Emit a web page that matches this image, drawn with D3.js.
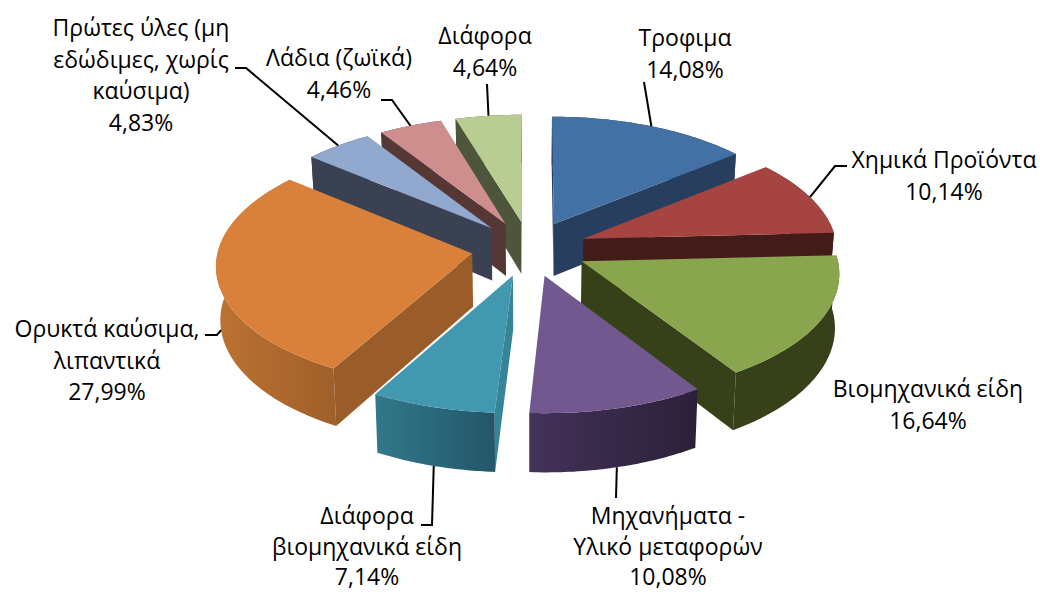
<!DOCTYPE html>
<html>
<head>
<meta charset="utf-8">
<script src="https://cdn.jsdelivr.net/npm/d3@7"></script>
<style>
  html, body { margin: 0; padding: 0; background: #fff; overflow: hidden; }
  text { font-family: "Open Sans", "Noto Sans", sans-serif; font-size: 23px; fill: #000; text-anchor: middle; }
</style>
</head>
<body>
<div id="chart"></div>
<script>
// Chart data
var categories = ["Τροφιμα", "Χημικά Προϊόντα", "Βιομηχανικά είδη", "Μηχανήματα - Υλικό μεταφορών",
  "Διάφορα βιομηχανικά είδη", "Ορυκτά καύσιμα, λιπαντικά", "Πρώτες ύλες (μη εδώδιμες, χωρίς καύσιμα)",
  "Λάδια (ζωϊκά)", "Διάφορα"];
var values = [14.08, 10.14, 16.64, 10.08, 7.14, 27.99, 4.83, 4.46, 4.64];
var valueLabels = ["14,08%", "10,14%", "16,64%", "10,08%", "7,14%", "27,99%", "4,83%", "4,46%", "4,64%"];
var labelLines = [
  ["Τροφιμα"], ["Χημικά Προϊόντα"], ["Βιομηχανικά είδη"], ["Μηχανήματα -", "Υλικό μεταφορών"],
  ["Διάφορα", "βιομηχανικά είδη"], ["Ορυκτά καύσιμα,", "λιπαντικά"],
  ["Πρώτες ύλες (μη", "εδώδιμες, χωρίς", "καύσιμα)"], ["Λάδια (ζωϊκά)"], ["Διάφορα"]
];

// Colours
var topColors = ["#4471a5", "#a54441", "#89a54e", "#71588f", "#4198af", "#d9813b", "#92a9cf", "#cd8e8d", "#b9cd93"];
var wallColors = ["#273e5f", "#431b18", "#374119", "#2c2138", "#358498", "#9a5c28", "#3a4152", "#553736", "#4d563a"];
var rimLeft = ["#273e5f", "#431b18", "#374119", "#43325a", "#31798b", "#bc7232", "#3a4152", "#553736", "#4d563a"];
var rimRight = ["#273e5f", "#431b18", "#374119", "#2b2038", "#24566a", "#a0602a", "#3a4152", "#553736", "#4d563a"];

// Label layout
var labelX = [685, 944, 928, 668, 367, 107, 141, 339, 485];
var labelY = [46, 168, 397, 524, 524, 337, 36, 66, 44];
var labelPitch = [31.5, 31.5, 31.5, 30.5, 30.5, 31.5, 31.5, 31.5, 31.5];
var leaderStart = [[644, 82], [847, 166], null, [616, 498], [421, 525], [205, 335], [235, 68], [381, 100], [487, 84]];
var leaderElbow = [null, [835, 166], null, null, [432, 525], [217, 335], [246, 68], [392, 100], null];
var leaderDepth = [0, 0, 0, 1, 1, 1, 0, 0, 0];

// Back to front
var drawOrder = [8, 7, 6, 0, 1, 5, 2, 4, 3];

var svgWidth = 1040;
var svgHeight = 592;
var cx = 529.5;
var cy = 248.5;
var radius = 254;
var explode = 58;
var tilt = 0.475;
var perspective = 0.00034;
var depth = 53;

var svg = d3.select("#chart")
  .append("svg")
  .attr("width", svgWidth)
  .attr("height", svgHeight);
var defs = svg.append("defs");

var pie = d3.pie().sort(null).value(d => d);
var arcs = pie(values);

var planeScale = d3.scaleLinear().domain([0, 1]).range([0, radius]);
var line = d3.line().x(d => d[0]).y(d => d[1]);

// Plane coordinates to screen, z = 0 is the top face and z = 1 the bottom
function project(X, Y, z) {
  var k = 1 / (1 + perspective * Y);
  return [cx + X * k * (1 - 0.014 * z), cy - tilt * Y * k + depth * k * z];
}

function apexOf(d) {
  var mid = (d.startAngle + d.endAngle) / 2;
  return [explode * Math.sin(mid), explode * Math.cos(mid)];
}

function rimPoint(d, angle, z) {
  var a = apexOf(d);
  return project(a[0] + planeScale(Math.sin(angle)), a[1] + planeScale(Math.cos(angle)), z);
}

function side(a, b, p) {
  return (b[0] - a[0]) * (p[1] - a[1]) - (b[1] - a[1]) * (p[0] - a[0]);
}

drawOrder.forEach(function(i) {
  var d = arcs[i];
  var a = apexOf(d);
  var apexTop = project(a[0], a[1], 0);
  var apexBottom = project(a[0], a[1], 1);
  var angles = d3.range(0, 41).map(t => d.startAngle + (d.endAngle - d.startAngle) * t / 40);
  var rimTop = angles.map(t => rimPoint(d, t, 0));
  var rimBottom = angles.map(t => rimPoint(d, t, 1));
  var g = svg.append("g").attr("class", "slice");

  // Flat cut walls, only the ones facing the viewer
  [[0, 40], [40, 0]].forEach(function(ends) {
    var near = rimTop[ends[0]];
    var far = rimTop[ends[1]];
    if (side(apexTop, near, apexBottom) * side(apexTop, near, far) < 0) {
      g.append("path")
        .attr("d", line([apexTop, near, rimBottom[ends[0]], apexBottom]) + "Z")
        .attr("fill", wallColors[i]);
    }
  });

  // Outer wall
  var gradId = "rim" + i;
  var xs = d3.extent(rimTop, p => p[0]);
  var grad = defs.append("linearGradient")
    .attr("id", gradId)
    .attr("gradientUnits", "userSpaceOnUse")
    .attr("x1", xs[0]).attr("x2", xs[1]).attr("y1", 0).attr("y2", 0);
  grad.append("stop").attr("offset", 0).attr("stop-color", rimLeft[i]);
  grad.append("stop").attr("offset", 1).attr("stop-color", rimRight[i]);
  g.append("path")
    .attr("d", line(rimTop.concat(rimBottom.slice().reverse())) + "Z")
    .attr("fill", "url(#" + gradId + ")");

  // Top face
  g.append("path")
    .attr("d", line([apexTop].concat(rimTop)) + "Z")
    .attr("fill", topColors[i]);
});

// Leader lines
arcs.forEach(function(d, i) {
  if (!leaderStart[i]) return;
  var mid = (d.startAngle + d.endAngle) / 2;
  var pts = [leaderStart[i]];
  if (leaderElbow[i]) pts.push(leaderElbow[i]);
  pts.push(rimPoint(d, mid, leaderDepth[i]));
  svg.append("path")
    .attr("d", line(pts))
    .attr("fill", "none")
    .attr("stroke", "#000")
    .attr("stroke-width", 2);
});

// Labels
arcs.forEach(function(d, i) {
  var lines = labelLines[i].concat([valueLabels[i]]);
  svg.append("text")
    .attr("aria-label", categories[i])
    .selectAll("tspan")
    .data(lines)
    .enter()
    .append("tspan")
    .attr("x", labelX[i])
    .attr("y", (t, j) => labelY[i] + j * labelPitch[i])
    .text(t => t);
});
</script>
</body>
</html>
